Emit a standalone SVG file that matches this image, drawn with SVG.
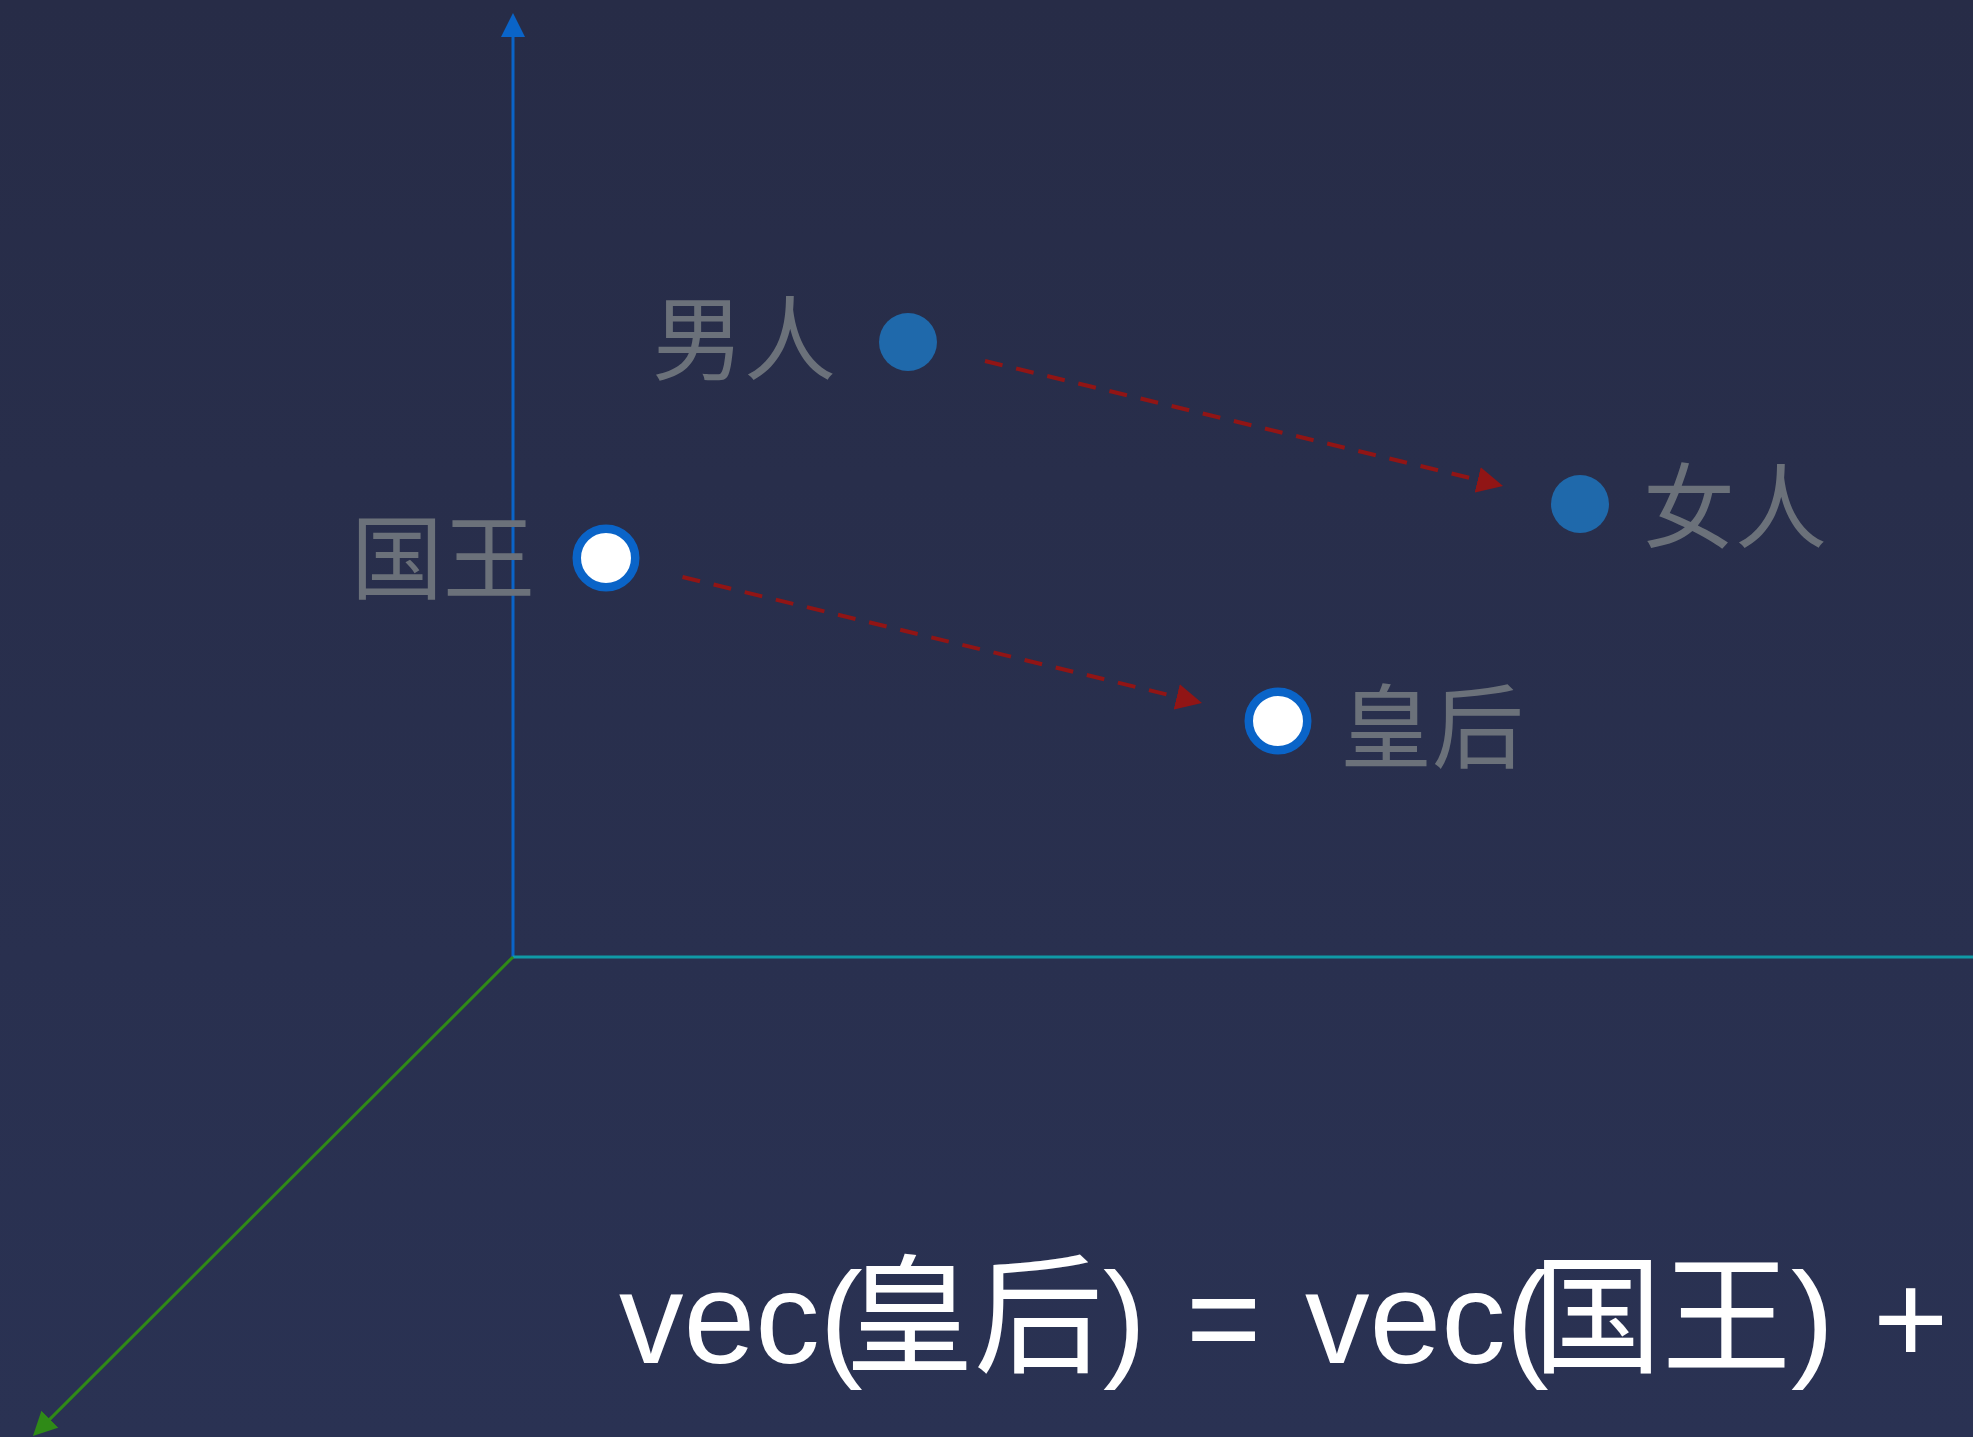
<svg xmlns="http://www.w3.org/2000/svg" width="1973" height="1437" viewBox="0 0 1973 1437">
<defs>
<linearGradient id="bg" x1="0" y1="0" x2="0" y2="1">
<stop offset="0" stop-color="#272c47"/>
<stop offset="1" stop-color="#2a3253"/>
</linearGradient>
<marker id="mBlue" viewBox="0 0 24 24" markerWidth="24" markerHeight="24" markerUnits="userSpaceOnUse" refX="5" refY="12" orient="auto"><path d="M0,0 L24,12 L0,24 z" fill="#0a64c8"/></marker>
<marker id="mGreen" viewBox="0 0 24 24" markerWidth="24" markerHeight="24" markerUnits="userSpaceOnUse" refX="5" refY="12" orient="auto"><path d="M0,0 L24,12 L0,24 z" fill="#2f8a17"/></marker>
<marker id="mRed" viewBox="0 0 26 26" markerWidth="26" markerHeight="26" markerUnits="userSpaceOnUse" refX="4" refY="13" orient="auto"><path d="M0,0 L26,13 L0,26 z" fill="#911515"/></marker>
<style>
.lbl{font-family:"Noto Sans CJK SC","Noto Sans",sans-serif;font-size:92px;fill:#6b717a}
.dot{fill:#1f69ab}
.ring{fill:#ffffff;stroke:#0a64c8;stroke-width:8.5}
.vec{fill:none;stroke:#911515;stroke-width:4;stroke-dasharray:18 14}
.formula{font-family:"Liberation Sans","Noto Sans CJK SC",sans-serif;font-size:129px;fill:#ffffff}
</style>
</defs>
<rect x="0" y="0" width="1973" height="1437" fill="url(#bg)"/>
<g id="connectors">
<line id="axis-y" x1="513" y1="957" x2="513" y2="32" stroke="#0a64c8" stroke-width="3" marker-end="url(#mBlue)"/>
<line id="axis-x" x1="513" y1="957" x2="1973" y2="957" stroke="#109aa6" stroke-width="3"/>
<line id="axis-z" x1="513" y1="957" x2="46.4" y2="1422.6" stroke="#2f8a17" stroke-width="3" marker-end="url(#mGreen)"/>
<line id="vec-man-woman" class="vec" x1="985" y1="361" x2="1481.6" y2="480.8" marker-end="url(#mRed)"/>
<line id="vec-king-queen" class="vec" x1="682.5" y1="577" x2="1180.6" y2="697.8" marker-end="url(#mRed)"/>
</g>
<g id="man">
<circle class="dot" cx="908" cy="342" r="29"/>
<text class="lbl" x="652" y="373">男人</text>
</g>
<g id="woman">
<circle class="dot" cx="1580" cy="504" r="29"/>
<text class="lbl" x="1643" y="541">女人</text>
</g>
<g id="king">
<circle class="ring" cx="606" cy="558" r="29.25"/>
<text class="lbl" x="351" y="592">国王</text>
</g>
<g id="queen">
<circle class="ring" cx="1278" cy="721" r="29.25"/>
<text class="lbl" x="1340" y="761">皇后</text>
</g>
<g id="formula">
<text class="formula" y="1363"><tspan x="619">vec(</tspan><tspan x="845">皇后</tspan><tspan x="1103">)</tspan><tspan x="1186">=</tspan><tspan x="1305">vec(</tspan><tspan x="1533">国王</tspan><tspan x="1791">)</tspan><tspan x="1873">+</tspan></text>
</g>
</svg>
